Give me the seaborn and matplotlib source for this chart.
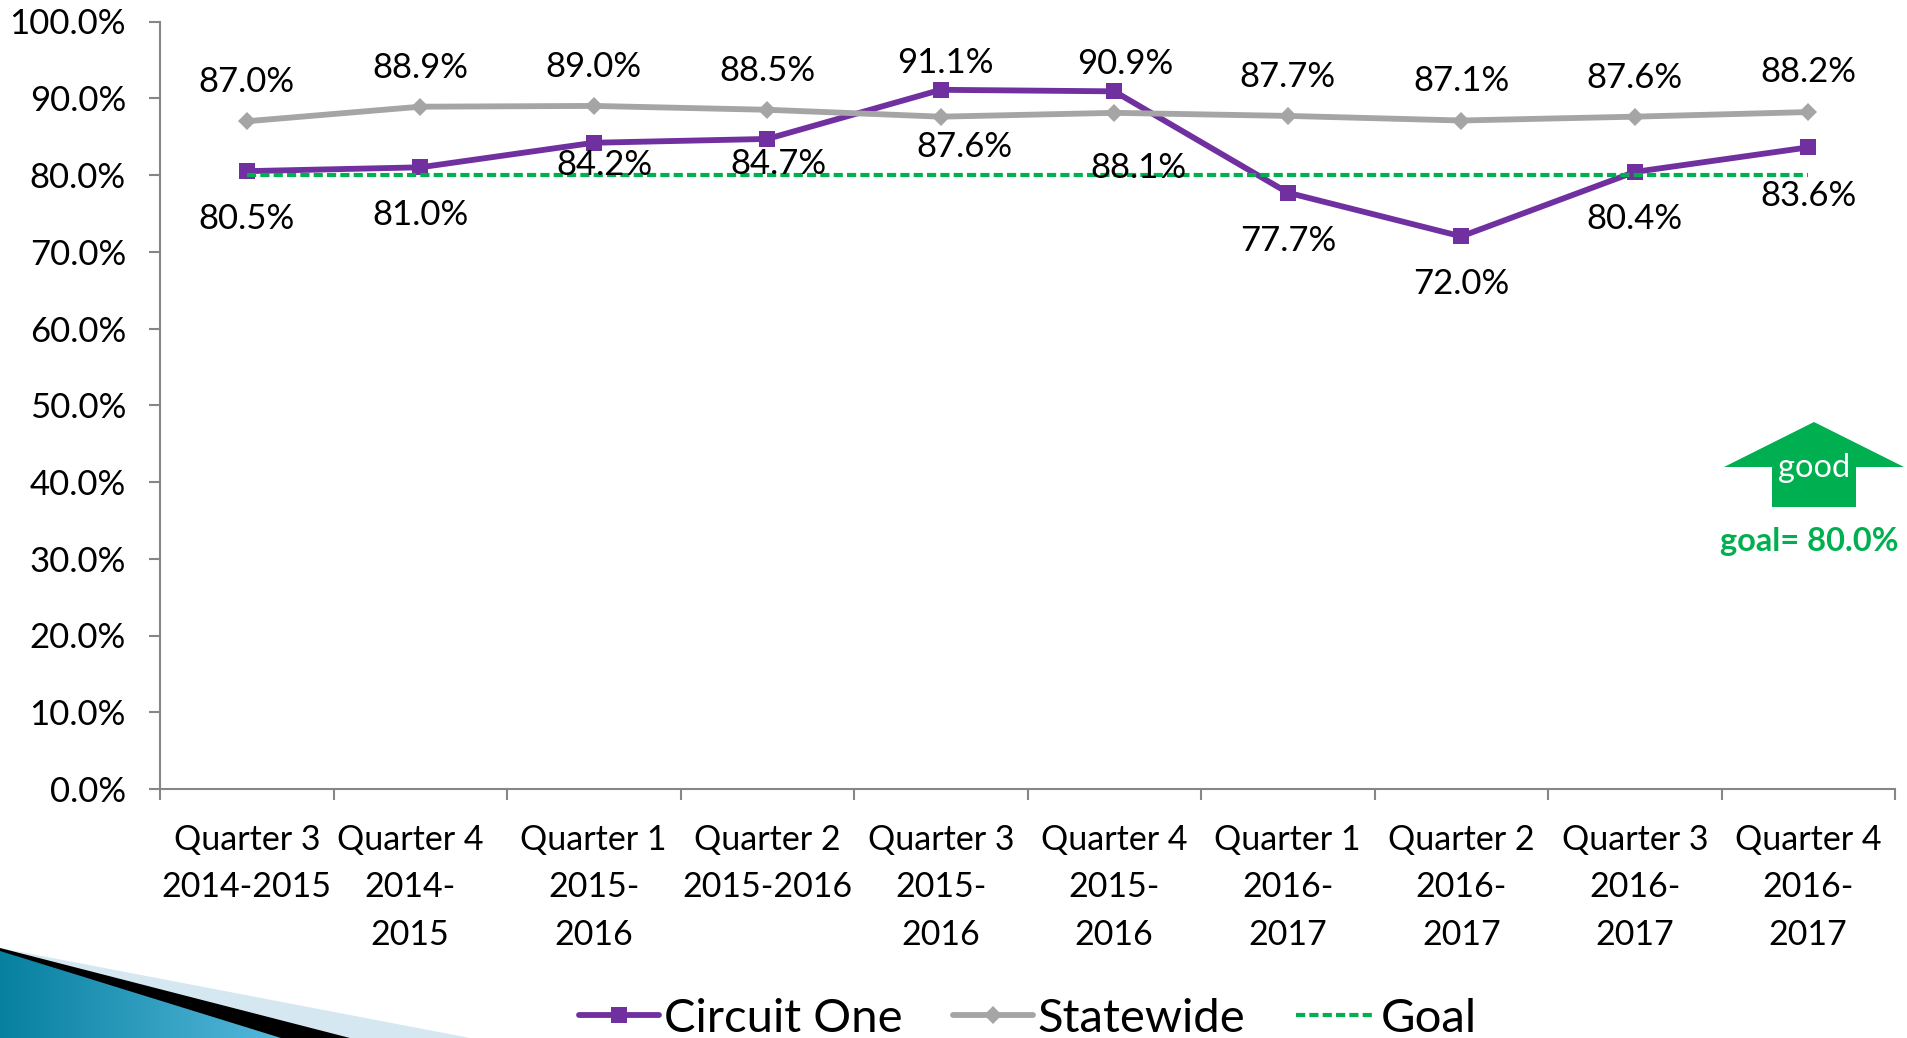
import matplotlib
matplotlib.use('Agg')
import matplotlib.pyplot as plt
from matplotlib.patches import Polygon
from matplotlib.colors import LinearSegmentedColormap
from matplotlib.transforms import ScaledTranslation
import numpy as np
import seaborn as sns

quarters = ['Quarter 3\n2014-2015', 'Quarter 4\n2014-\n2015', 'Quarter 1\n2015-\n2016', 'Quarter 2\n2015-2016',
            'Quarter 3\n2015-\n2016', 'Quarter 4\n2015-\n2016', 'Quarter 1\n2016-\n2017', 'Quarter 2\n2016-\n2017',
            'Quarter 3\n2016-\n2017', 'Quarter 4\n2016-\n2017']
circuit_one = [80.5, 81.0, 84.2, 84.7, 91.1, 90.9, 77.7, 72.0, 80.4, 83.6]
statewide = [87.0, 88.9, 89.0, 88.5, 87.6, 88.1, 87.7, 87.1, 87.6, 88.2]
goal = [80.0] * 10
y_ticks = [0, 10, 20, 30, 40, 50, 60, 70, 80, 90, 100]

PURPLE = '#7030A0'
GRAY = '#A5A5A5'
GREEN = '#00B050'
W, H = 1907, 1038

sns.set_style('white')
plt.rcParams['font.family'] = ['Lato', 'DejaVu Sans']

x = np.arange(10)
fig = plt.figure(figsize=(W / 100, H / 100), dpi=100, facecolor='white')

# slide decoration in the bottom left corner, in pixels
deco = fig.add_axes([0, 0, 1, 1], zorder=0)
deco.add_patch(Polygon([(0, 948), (470, H), (0, H)], color='#D5E7F0', lw=0))
deco.add_patch(Polygon([(0, 948), (350, H), (0, H)], color='black', lw=0))
teal = LinearSegmentedColormap.from_list('teal', ['#07809F', '#55B8DC'])
im = deco.imshow(np.linspace(0, 1, 256).reshape(1, -1), cmap=teal, extent=(0, 281, H, 950), aspect='auto', zorder=3)
im.set_clip_path(Polygon([(0, 951), (281, H), (0, H)], transform=deco.transData))
deco.set_xlim(0, W)
deco.set_ylim(H, 0)
deco.axis('off')

ax = fig.add_axes([160 / W, 1 - 789 / H, (1895 - 160) / W, (789 - 21.5) / H], zorder=1)
ax.patch.set_alpha(0)

sns.lineplot(x=x, y=circuit_one, ax=ax, color=PURPLE, marker='s', markersize=12, markeredgewidth=0,
             linewidth=4.2, label='Circuit One')
sns.lineplot(x=x, y=statewide, ax=ax, color=GRAY, marker='D', markersize=9, markeredgewidth=0,
             linewidth=4.2, label='Statewide')
sns.lineplot(x=x, y=goal, ax=ax, color=GREEN, linewidth=3, linestyle=(0, (2.2, 1)), label='Goal')

ax.set_xlim(-0.5, 9.5)
ax.set_ylim(0, 100)
sns.despine(ax=ax)
for side in ['left', 'bottom']:
    ax.spines[side].set_color('#868686')
    ax.spines[side].set_linewidth(1.5)

ax.set_yticks(y_ticks)
ax.set_yticklabels([f'{v:.1f}%' for v in y_ticks], fontsize=25, color='black')
ax.tick_params(axis='y', left=True, length=8, width=1.5, color='#868686', pad=16.5)
ax.set_xticks(np.arange(-0.5, 10, 1))
ax.set_xticklabels([])
ax.set_xticks(range(10), quarters, minor=True, fontsize=24.5, color='black', linespacing=1.6)
ax.tick_params(axis='x', which='major', bottom=True, length=8, width=1.5, color='#868686')
ax.tick_params(axis='x', which='minor', bottom=False, pad=23)

# second label sits a little left of its slot
lab = ax.get_xticklabels(minor=True)[1]
lab.set_transform(lab.get_transform() + ScaledTranslation(-10 / 100, 0, fig.dpi_scale_trans))

# data labels, offsets in pixels from each point
circuit_off = [(0, 48), (0, 48), (11, 22), (11, 25), (5, -27), (11, -27), (0, 48), (0, 48), (0, 47), (0, 49)]
state_off = [(0, -39), (0, -39), (0, -39), (0, -39), (24, 30), (24, 55), (0, -39), (0, -40), (0, -39), (0, -40)]
for values, offs in [(circuit_one, circuit_off), (statewide, state_off)]:
    for i, v in enumerate(values):
        ax.annotate(f'{v:.1f}%', (i, v), xytext=(offs[i][0] * 0.72, -offs[i][1] * 0.72),
                    textcoords='offset points', ha='center', va='center', fontsize=25, color='black', zorder=5)

handles, labels = ax.get_legend_handles_labels()
ax.legend(handles, labels, loc='center', bbox_to_anchor=(1028 / W, 1 - 1019 / H), bbox_transform=fig.transFigure,
          ncol=3, frameon=False, fontsize=34, labelcolor='black', handlelength=1.7, handletextpad=0.1,
          columnspacing=1.06, borderpad=0, borderaxespad=0)

# good arrow and goal note, in pixels
top = fig.add_axes([0, 0, 1, 1], zorder=2)
top.set_xlim(0, W)
top.set_ylim(H, 0)
top.axis('off')
top.add_patch(Polygon([(1814, 422), (1904, 467), (1856, 467), (1856, 507), (1772, 507), (1772, 467), (1724, 467)],
                      color=GREEN, lw=0))
top.text(1814, 468, 'good', color='white', fontsize=23.5, ha='center', va='center')
top.text(1809, 541, 'goal= 80.0%', color=GREEN, fontsize=23.5, fontweight='bold', ha='center', va='center')

fig.savefig('out.png', dpi=100)
